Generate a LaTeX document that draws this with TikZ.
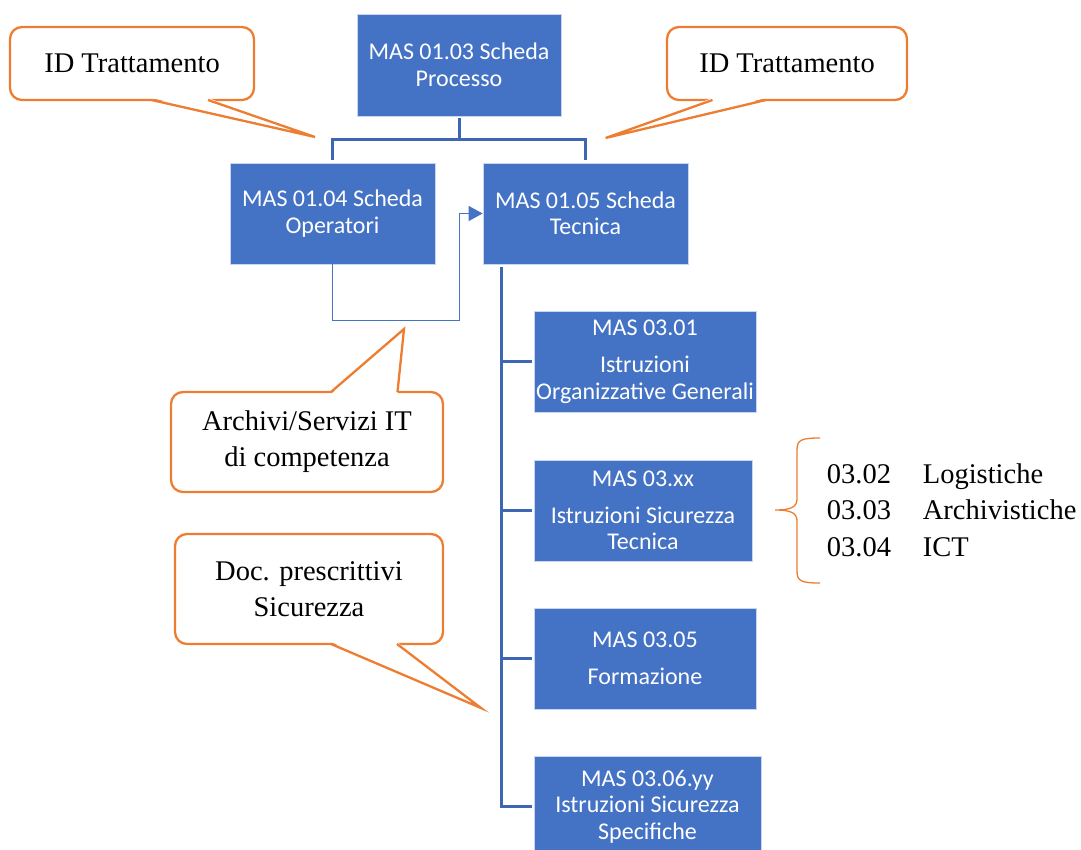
\documentclass[tikz,border=0pt]{standalone}
\usepackage{fontspec}
\newfontfamily\calfont{Carlito}
\newfontfamily\serfont{Liberation Serif}
\usetikzlibrary{arrows.meta}
\definecolor{masblue}{HTML}{4472C4}
\definecolor{treeblue}{HTML}{3F66B3}
\definecolor{callorange}{HTML}{ED7D31}
\tikzstyle{mas} = [rectangle, fill=masblue, draw=white!70!masblue, line width=0.8pt, text=white, align=center, inner sep=0pt, font=\calfont\fontsize{24}{26.5}\selectfont]
\tikzstyle{bubble} = [rectangle, rounded corners=12pt, draw=callorange, line width=2.3pt, fill=white, align=center, inner sep=0pt, font=\serfont\fontsize{28.5}{36}\selectfont]
\tikzstyle{tree} = [draw=treeblue, line width=3pt]
\tikzstyle{link} = [draw=masblue, line width=1.5pt, -{Triangle[length=14pt,width=15pt]}]
\tikzstyle{ptr} = [draw=callorange, line width=2.3pt, line join=miter]

\begin{document}
\begin{tikzpicture}[x=1pt,y=-1pt]
	\useasboundingbox (0,0) rectangle (1081,850);
	% schede
	\node[mas, minimum width=204pt, minimum height=102pt] (P) at (459,65) {MAS 01.03 Scheda\\Processo};
	\node[mas, minimum width=205pt, minimum height=101pt] (O) at (332.5,213.5) {MAS 01.04 Scheda\\Operatori};
	\node[mas, minimum width=205pt, minimum height=101pt] (T) at (585.5,213.5) {MAS 01.05 Scheda\\Tecnica};
	\node[mas, minimum width=222pt, minimum height=101pt] (s1) at (645,361.5) {MAS 03.01\\[11pt]Istruzioni\\Organizzative Generali};
	\node[mas, minimum width=218pt, minimum height=101pt] (s2) at (643,510.5) {MAS 03.xx\\[10pt]Istruzioni Sicurezza\\Tecnica};
	\node[mas, minimum width=222pt, minimum height=101pt] (s3) at (645,658.5) {MAS 03.05\\[10pt]Formazione};
	\node[mas, minimum width=227pt, minimum height=101pt] (s4) at (647.5,806.5) {MAS 03.06.yy\\Istruzioni Sicurezza\\Specifiche};
	% collegamenti
	\draw[tree, shorten <=2pt, shorten >=3pt] (P.south) -- ++(0,23) -| (O.north);
	\draw[tree, shorten <=2pt, shorten >=3pt] (P.south) -- ++(0,23) -| (T.north);
	\foreach \n in {s1,s2,s3,s4}
		\draw[tree, shorten <=3pt, shorten >=2pt] ([xshift=18.5pt]T.south west) |- (\n.west);
	\draw[link] (O.south) -- ++(0,56) -| ([xshift=-23pt]T.west) -- (T.west);
	% fumetti
	\node[bubble, minimum width=244pt, minimum height=73pt] (idl) at (132,63.5) {ID Trattamento};
	\node[bubble, minimum width=240pt, minimum height=73pt] (idr) at (787,63.5) {ID Trattamento};
	\node[bubble, minimum width=272pt, minimum height=100pt] (arc) at (307,442) {Archivi/Servizi IT\\di competenza};
	\node[bubble, minimum width=268pt, minimum height=110pt] (doc) at (309,589) {Doc. prescrittivi\\Sicurezza};
	\fill[white] (151.5,98) -- (315,137) -- (208,98) -- cycle;
	\draw[ptr] (151.5,100) -- (315,137) -- (208,100);
	\fill[white] (712.5,98) -- (605.6,138) -- (766,98) -- cycle;
	\draw[ptr] (712.5,100) -- (605.6,138) -- (766,100);
	\fill[white] (331,394) -- (404,329) -- (397.5,394) -- cycle;
	\draw[ptr] (331,392) -- (404,329) -- (397.5,392);
	\fill[white] (331,642) -- (481,708) -- (397,642) -- cycle;
	\draw[ptr] (331,644) -- (481,708) -- (397,644);
	% graffa e elenco
	\draw[callorange, line width=1.3pt] (820,438) .. controls (801,438) and (797,440) .. (797,450) -- (797,499) .. controls (797,507) and (791,510) .. (775,510) .. controls (791,510) and (797,513) .. (797,521) -- (797,571) .. controls (797,581) and (801,583) .. (820,583);
	\node[anchor=base west, inner sep=0pt, font=\serfont\fontsize{28.5}{36.5}\selectfont] (cats) at (826.7,483) {\begin{tabular}[t]{@{}p{96pt}@{}l@{}}03.02 & Logistiche\\03.03 & Archivistiche\\03.04 & ICT\end{tabular}};
\end{tikzpicture}
\end{document}
